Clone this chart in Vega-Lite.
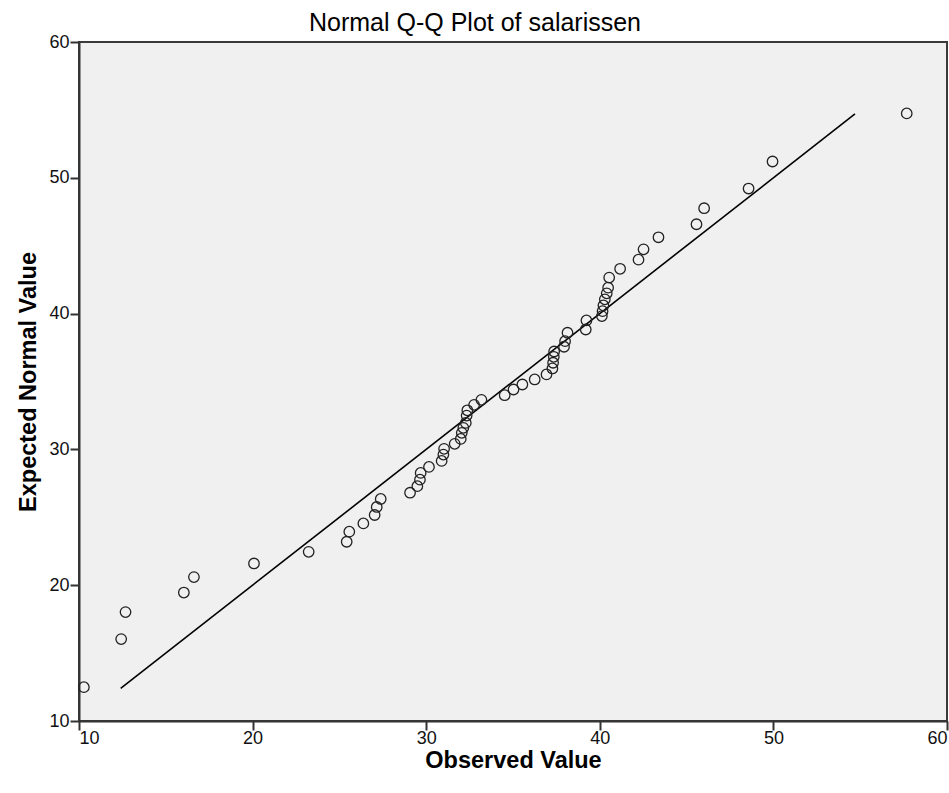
{
  "$schema": "https://vega.github.io/schema/vega-lite/v6.json",
  "autosize": "none",
  "width": 868,
  "height": 679,
  "padding": {"left": 79, "top": 42, "right": 2, "bottom": 72},
  "background": "white",
  "title": {"text": "Normal Q-Q Plot of salarissen", "font": "Liberation Sans", "fontSize": 25, "fontWeight": "normal", "color": "#000", "offset": -3, "anchor": "middle", "dx": -38},
  "datasets": {
    "pts": [
      {"obs": 10.28, "exp": 12.49}, {"obs": 12.43, "exp": 16.03}, {"obs": 12.68, "exp": 18.02},
      {"obs": 16.04, "exp": 19.46}, {"obs": 16.62, "exp": 20.60}, {"obs": 20.08, "exp": 21.60},
      {"obs": 23.23, "exp": 22.46}, {"obs": 25.42, "exp": 23.20}, {"obs": 25.57, "exp": 23.94},
      {"obs": 26.38, "exp": 24.55}, {"obs": 27.03, "exp": 25.17}, {"obs": 27.15, "exp": 25.76},
      {"obs": 27.38, "exp": 26.35}, {"obs": 29.07, "exp": 26.81}, {"obs": 29.49, "exp": 27.29},
      {"obs": 29.64, "exp": 27.77}, {"obs": 29.68, "exp": 28.27}, {"obs": 30.16, "exp": 28.71},
      {"obs": 30.89, "exp": 29.15}, {"obs": 30.99, "exp": 29.62}, {"obs": 31.03, "exp": 30.04},
      {"obs": 31.64, "exp": 30.41}, {"obs": 31.99, "exp": 30.77}, {"obs": 32.05, "exp": 31.22},
      {"obs": 32.14, "exp": 31.59}, {"obs": 32.28, "exp": 31.95}, {"obs": 32.33, "exp": 32.49},
      {"obs": 32.37, "exp": 32.88}, {"obs": 32.76, "exp": 33.28}, {"obs": 33.18, "exp": 33.65},
      {"obs": 34.52, "exp": 33.99}, {"obs": 35.03, "exp": 34.41}, {"obs": 35.54, "exp": 34.78},
      {"obs": 36.25, "exp": 35.15}, {"obs": 36.93, "exp": 35.52}, {"obs": 37.27, "exp": 35.96},
      {"obs": 37.31, "exp": 36.38}, {"obs": 37.35, "exp": 36.82}, {"obs": 37.37, "exp": 37.21},
      {"obs": 37.94, "exp": 37.56}, {"obs": 38.00, "exp": 37.97}, {"obs": 38.14, "exp": 38.59},
      {"obs": 39.19, "exp": 38.83}, {"obs": 39.23, "exp": 39.50}, {"obs": 40.12, "exp": 39.82},
      {"obs": 40.16, "exp": 40.18}, {"obs": 40.21, "exp": 40.60}, {"obs": 40.29, "exp": 41.05},
      {"obs": 40.40, "exp": 41.49}, {"obs": 40.48, "exp": 41.91}, {"obs": 40.54, "exp": 42.65},
      {"obs": 41.17, "exp": 43.30}, {"obs": 42.23, "exp": 43.97}, {"obs": 42.52, "exp": 44.73},
      {"obs": 43.38, "exp": 45.62}, {"obs": 45.57, "exp": 46.58}, {"obs": 46.01, "exp": 47.76},
      {"obs": 48.57, "exp": 49.21}, {"obs": 49.95, "exp": 51.20}, {"obs": 57.68, "exp": 54.74}
    ],
    "ref": [
      {"obs": 12.4, "exp": 12.4},
      {"obs": 54.7, "exp": 54.7}
    ]
  },
  "config": {
    "view": {"fill": "#F0F0F0", "stroke": "#3a3a3a", "strokeWidth": 2},
    "axis": {
      "grid": false,
      "domainColor": "#333333",
      "domainWidth": 2,
      "tickColor": "#333333",
      "tickWidth": 2,
      "tickSize": 9,
      "labelFont": "Liberation Sans",
      "labelFontSize": 18,
      "labelColor": "#111",
      "titleFont": "Liberation Sans",
      "titleFontSize": 23.5,
      "titleFontWeight": "bold",
      "titleColor": "#000"
    }
  },
  "layer": [
    {
      "data": {"name": "ref"},
      "mark": {"type": "line", "color": "#000", "strokeWidth": 1.6},
      "encoding": {
        "x": {"field": "obs", "type": "quantitative"},
        "y": {"field": "exp", "type": "quantitative"}
      }
    },
    {
      "data": {"name": "pts"},
      "mark": {"type": "point", "shape": "circle", "filled": false, "size": 110, "stroke": "#222", "strokeWidth": 1.3, "opacity": 1},
      "encoding": {
        "x": {"field": "obs", "type": "quantitative", "scale": {"domain": [10, 60], "nice": false, "zero": false},
              "axis": {"values": [10, 20, 30, 40, 50, 60], "title": "Observed Value", "titlePadding": 1, "labelPadding": -1}},
        "y": {"field": "exp", "type": "quantitative", "scale": {"domain": [10, 60], "nice": false, "zero": false},
              "axis": {"values": [10, 20, 30, 40, 50, 60], "title": "Expected Normal Value", "titlePadding": 8, "labelPadding": 1}}
      }
    }
  ]
}
